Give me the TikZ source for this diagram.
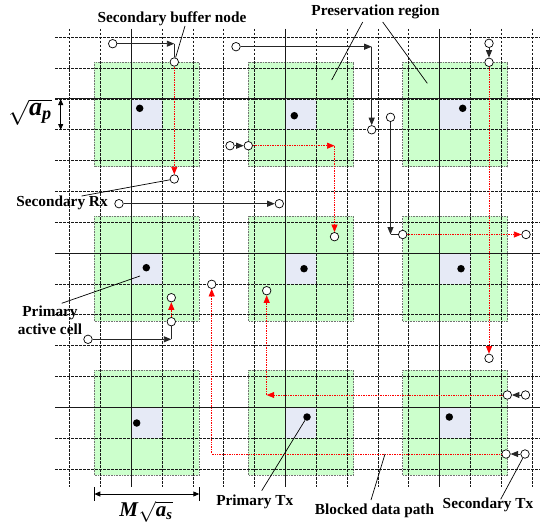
\documentclass[tikz,border=0pt]{standalone}
\usepackage{fontspec}
\usepackage{amsmath}
\setmainfont{Liberation Serif}
\usetikzlibrary{arrows.meta}
\definecolor{pgreen}{HTML}{CCFFCC}
\definecolor{pblue}{HTML}{E6EAF6}
\begin{document}
\begin{tikzpicture}[x=1pt,y=-1pt,
  gridline/.style={line width=0.8pt, black!90, dash pattern=on 2.5pt off 1.5pt},
  major/.style={line width=0.9pt, black!90},
  preserve/.style={fill=pgreen, draw=black!55, densely dotted, line width=0.6pt},
  bluecell/.style={fill=pblue, draw=none},
  snode/.style={circle, draw, fill=white, inner sep=0pt, minimum size=8.5pt, line width=0.7pt},
  pdot/.style={circle, fill=black, inner sep=0pt, minimum size=7.5pt},
  blk/.style={line width=0.9pt, black!85},
  blkarr/.style={blk, -{Triangle[length=7.5pt,width=6pt]}},
  redpath/.style={red, densely dotted, line width=0.7pt},
  redarr/.style={redpath, -{Triangle[length=7.5pt,width=6pt]}},
  lbl/.style={font=\fontsize{15.3}{18}\selectfont\bfseries, inner sep=1pt},
  ptr/.style={line width=0.7pt},
  dimarr/.style={line width=0.9pt, {Triangle[length=6pt,width=5pt]}-{Triangle[length=6pt,width=5pt]}}]
\useasboundingbox (0,0) rectangle (540,527);
% preservation regions and primary cells
\foreach \i in {2,7,12}{
  \foreach \j in {2,7,12}{
    \pgfmathsetmacro\xa{69.5+30.85*\i}
    \pgfmathsetmacro\xb{69.5+30.85*(\i+1)}
    \pgfmathsetmacro\ya{37.2+30.85*\j}
    \pgfmathsetmacro\yb{37.2+30.85*(\j+1)}
    \fill[preserve] (\xa-37.2,\ya-37) rectangle (\xb+37.2,\yb+37);
    \draw[preserve, fill=none] (\xa-37.2,\ya-37) rectangle (\xb+37.2,\yb+37);
    \fill[bluecell] (\xa,\ya) rectangle (\xb,\yb);
  }
}
% grid
\foreach \k in {0,...,14}{
  \pgfmathsetmacro\yy{37.2+30.85*\k}
  \draw[gridline] (55,\yy) -- (540,\yy);
}
\foreach \k in {0,...,15}{
  \pgfmathsetmacro\xx{69.5+30.85*\k}
  \draw[gridline] (\xx,29) -- (\xx,487);
}
\foreach \k in {2,7,12}{
  \pgfmathsetmacro\yy{37.2+30.85*\k}
  \pgfmathsetmacro\xx{69.5+30.85*\k}
  \draw[major] (55,\yy) -- (540,\yy);
  \draw[major] (\xx,29) -- (\xx,487);
}
% primary nodes
\node[pdot] (d11) at (139.7,108.3) {};
\node[pdot] (d12) at (294.3,115.7) {};
\node[pdot] (d13) at (462.7,108.3) {};
\node[pdot] (d21) at (146.3,267.7) {};
\node[pdot] (d22) at (304,268.7) {};
\node[pdot] (d23) at (461,268.7) {};
\node[pdot] (d31) at (136.7,423) {};
\node[pdot] (d32) at (307,417) {};
\node[pdot] (d33) at (449.3,417) {};
% secondary nodes
\node[snode] (A) at (112.7,43.7) {};
\node[snode] (B) at (174.3,62) {};
\node[snode] (R1) at (174.3,179) {};
\node[snode] (C) at (236,46.7) {};
\node[snode] (D) at (371.7,129.8) {};
\node[snode] (E) at (489,43.3) {};
\node[snode] (F) at (489,62.3) {};
\node[snode] (G) at (489,358.3) {};
\node[snode] (H) at (230,145.7) {};
\node[snode] (I) at (248.3,145.7) {};
\node[snode] (J) at (334.5,236.7) {};
\node[snode] (K) at (390.5,117.3) {};
\node[snode] (L) at (402.7,234.5) {};
\node[snode] (Mc) at (526,234.5) {};
\node[snode] (N) at (119,203.7) {};
\node[snode] (O) at (279.3,203.7) {};
\node[snode] (Q) at (88,339.3) {};
\node[snode] (R) at (171.3,321.7) {};
\node[snode] (S) at (171.3,297.7) {};
\node[snode] (T) at (525,454) {};
\node[snode] (U) at (506,454) {};
\node[snode] (V) at (211.7,284.3) {};
\node[snode] (W) at (525.5,395) {};
\node[snode] (X) at (507.3,395) {};
\node[snode] (Y) at (266.7,290.7) {};
% connectors
\coordinate (cAB) at (B |- A);
\draw[blkarr] (A) -- (cAB); \draw[blk] (cAB) -- (B);
\draw[redarr] (B) -- (R1);
\coordinate (cCD) at (D |- C);
\draw[blkarr] (C) -- (cCD); \draw[blkarr] (cCD) -- (D);
\draw[blkarr] (E) -- (F); \draw[redarr] (F) -- (G);
\draw[blkarr] (H) -- (I);
\coordinate (cIJ) at (J |- I);
\draw[redarr] (I) -- (cIJ); \draw[redarr] (cIJ) -- (J);
\coordinate (cKL) at (K |- L);
\draw[blkarr] (K) -- (cKL); \draw[blk] (cKL) -- (L);
\draw[redarr] (L) -- (Mc);
\draw[blkarr] (N) -- (O);
\coordinate (cQR) at (R |- Q);
\draw[blkarr] (Q) -- (cQR); \draw[blk] (cQR) -- (R);
\draw[redarr] (R) -- (S);
\draw[blkarr] (T) -- (U);
\coordinate (cUV) at (V |- U);
\draw[redarr] (U) -- (cUV) -- (V);
\draw[blkarr] (W) -- (X);
\coordinate (cXY) at (Y |- X);
\draw[redarr] (X) -- (cXY); \draw[redarr] (cXY) -- (Y);
% labels
\node[lbl] (lbuf) at (172,19) {Secondary buffer node};
\node[lbl] (lpres) at (375.5,12) {Preservation region};
\node[lbl] (lrx) at (62,203) {Secondary Rx};
\node[lbl, align=center] (lpac) at (50,320) {Primary\\active cell};
\node[lbl] (lptx) at (254.7,502) {Primary Tx};
\node[lbl] (lbdp) at (374.5,511) {Blocked data path};
\node[lbl] (lstx) at (488,505) {Secondary Tx};
\node[inner sep=0pt] (lap) at (30,112) {\fontsize{26}{26}\selectfont $\sqrt{\textbf{\textit{a}}_{\textbf{\textit{p}}}}$};
\node[inner sep=0pt] (lmas) at (146,512) {\fontsize{21}{21}\selectfont $\textbf{\textit{M}}\sqrt{\textbf{\textit{a}}_{\textbf{\textit{s}}}}$};
% pointer lines
\coordinate (pbuf) at (185,26); \draw[ptr] (pbuf) -- (B);
\coordinate (pp1) at (362.7,22); \coordinate (pp1e) at (331.7,80); \draw[ptr] (pp1) -- (pp1e);
\coordinate (pp2) at (382.7,22); \coordinate (pp2e) at (427.3,83.3); \draw[ptr] (pp2) -- (pp2e);
\coordinate (prx) at (81.7,196); \draw[ptr] (prx) -- (R1);
\coordinate (ppac) at (61.7,303.3); \coordinate (ppace) at (140,276); \draw[ptr] (ppac) -- (ppace);
\coordinate (pptx) at (261.7,490.7); \draw[ptr] (pptx) -- (d32);
\coordinate (pbdp) at (371,500); \coordinate (pbdpe) at (385,454); \draw[ptr] (pbdp) -- (pbdpe);
\coordinate (pstx) at (500.7,499.3); \draw[ptr] (pstx) -- (T);
% dimension arrows
\coordinate (ap1) at (60.7,99); \coordinate (ap2) at (60.7,130);
\draw[dimarr] (ap1) -- (ap2);
\coordinate (ms1) at (94.3,494); \coordinate (ms2) at (199.3,494);
\draw[line width=0.9pt] (94.3,487) -- (94.3,501) (199.3,487) -- (199.3,501);
\draw[dimarr] (ms1) -- (ms2);
\end{tikzpicture}
\end{document}
